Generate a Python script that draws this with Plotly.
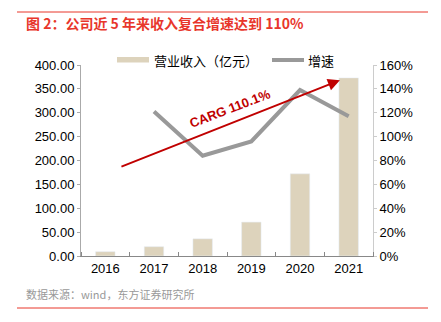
import plotly.graph_objects as go

years = [2016, 2017, 2018, 2019, 2020, 2021]
revenue = [9, 19.5, 36, 71, 172, 373]
growth_years = [2017, 2018, 2019, 2020, 2021]
growth = [1.21, 0.84, 0.96, 1.39, 1.17]
left_ticks = [0, 50, 100, 150, 200, 250, 300, 350, 400]
right_ticks = [0, 0.2, 0.4, 0.6, 0.8, 1.0, 1.2, 1.4, 1.6]
bar_name = "营业收入（亿元）"
line_name = "增速"

L, R, T, B = 81, 373, 65, 256
W, H = 441, 322
def px(x):
    return (x - L) / (R - L)
def py(y):
    return (B - y) / (B - T)

bar_color = "#DDD3BC"
line_color = "#999999"
font = "Liberation Sans, Arial, Noto Sans CJK SC"
fig = go.Figure()
fig.add_trace(go.Bar(x=years, y=revenue, name=bar_name, marker_color=bar_color,
                     width=0.4, yaxis="y"))
fig.add_trace(go.Scatter(x=growth_years, y=growth, name=line_name, mode="lines",
                         line=dict(color=line_color, width=4), yaxis="y2"))

fig.update_layout(
    width=W, height=H, margin=dict(l=L, r=W - R, t=T, b=H - B, autoexpand=False),
    plot_bgcolor="white", paper_bgcolor="white",
    font=dict(family=font, size=13, color="#000000"),
    showlegend=False,
    xaxis=dict(range=[2015.5, 2021.5], tickvals=years, ticktext=[str(y) for y in years],
               showgrid=False, zeroline=False, showline=True, linecolor="#888888", linewidth=1,
               ticks="", ticklen=0,
               minor=dict(ticks="inside", tick0=2015.5, dtick=1, ticklen=4, tickcolor="#888888", showgrid=False),
               tickfont=dict(size=13)),
    yaxis=dict(range=[0, 400], tickvals=left_ticks, ticktext=[f"{v:.2f}" for v in left_ticks],
               showgrid=False, zeroline=False, showline=True, linecolor="#aaaaaa", linewidth=1,
               ticks="outside", ticklen=3, tickcolor="#aaaaaa", tickfont=dict(size=13)),
    yaxis2=dict(range=[0, 1.6], tickvals=right_ticks, ticktext=[f"{int(round(v*100))}%" for v in right_ticks],
                overlaying="y", side="right", showgrid=False, zeroline=False, showline=True,
                linecolor="#cccccc", linewidth=1, ticks="outside", ticklen=3, tickcolor="#cccccc",
                tickfont=dict(size=13)),
)

# manual legend
fig.add_shape(type="rect", xref="paper", yref="paper", x0=px(117), x1=px(149), y0=py(62.5), y1=py(57),
              fillcolor=bar_color, line=dict(width=0))
fig.add_annotation(x=px(152), y=py(60), xref="paper", yref="paper", xanchor="left", yanchor="middle",
                   text=bar_name, showarrow=False, font=dict(size=13, family="Noto Sans CJK SC"))
fig.add_shape(type="line", xref="paper", yref="paper", x0=px(272), x1=px(304), y0=py(60), y1=py(60),
              line=dict(color=line_color, width=4))
fig.add_annotation(x=px(306), y=py(60), xref="paper", yref="paper", xanchor="left", yanchor="middle",
                   text=line_name, showarrow=False, font=dict(size=13, family="Noto Sans CJK SC"))

# CAGR arrow
fig.add_annotation(x=2020.82, y=368, ax=2016.3, ay=186, xref="x", yref="y", axref="x", ayref="y",
                   showarrow=True, arrowhead=2, arrowsize=1.2, arrowwidth=2, arrowcolor="#C00000", text="")
fig.add_annotation(x=px(230), y=py(108), xref="paper", yref="paper", xanchor="center", yanchor="middle",
                   text="<b>CARG 110.1%</b>",
                   showarrow=False, textangle=-21, font=dict(size=13, color="#C00000", family=font))

# Title and source
fig.add_annotation(x=px(24), y=py(23), xref="paper", yref="paper", xanchor="left", yanchor="middle",
                   text="<b>图 2：公司近 5 年来收入复合增速达到 110%</b>", showarrow=False,
                   font=dict(size=14, color="#E8362B", family="Noto Sans CJK SC"))
fig.add_annotation(x=px(24), y=py(294), xref="paper", yref="paper", xanchor="left", yanchor="middle",
                   text="数据来源：wind，东方证券研究所", showarrow=False,
                   font=dict(size=11, color="#999999", family="Noto Sans CJK SC"))
fig.add_shape(type="line", xref="paper", yref="paper", x0=px(17), x1=px(428), y0=py(12), y1=py(12),
              line=dict(color="#E8362B", width=1))
fig.add_shape(type="line", xref="paper", yref="paper", x0=px(17), x1=px(428), y0=py(308), y1=py(308),
              line=dict(color="#E8362B", width=1))

fig.write_html("out.html")
